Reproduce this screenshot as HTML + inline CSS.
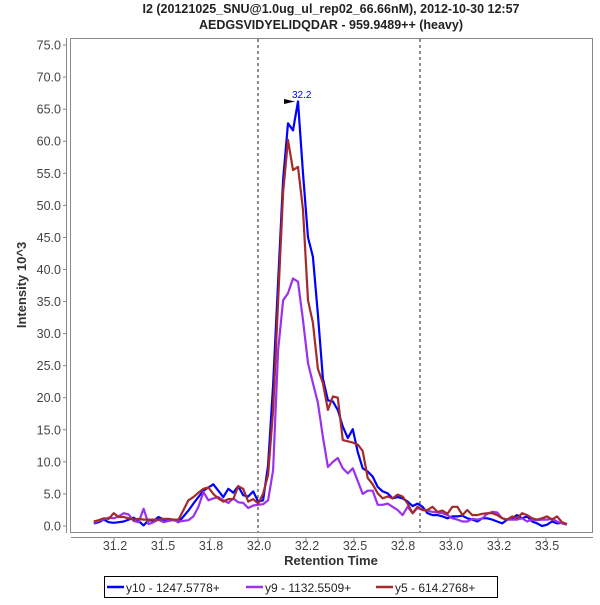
<!DOCTYPE html>
<html><head><meta charset="utf-8"><style>
body{margin:0;background:#fff;font-family:"Liberation Sans",sans-serif}
</style></head><body>
<svg id="chart" width="600" height="600" xmlns="http://www.w3.org/2000/svg" font-family="Liberation Sans, sans-serif">
<rect width="600" height="600" fill="#fff"/>
<text x="331" y="13" text-anchor="middle" font-size="12.5" font-weight="bold" fill="#222">I2 (20121025_SNU@1.0ug_ul_rep02_66.66nM), 2012-10-30 12:57</text>
<text x="331" y="29" text-anchor="middle" font-size="12.5" font-weight="bold" fill="#222">AEDGSVIDYELIDQDAR - 959.9489++ (heavy)</text>
<rect x="70.5" y="38.5" width="522" height="494" fill="#fff" stroke="#888"/>
<g id="yaxis"></g>
<g id="xaxis"></g>
<line x1="258" y1="39" x2="258" y2="532" stroke="#222" stroke-dasharray="3,3"/>
<line x1="420" y1="39" x2="420" y2="532" stroke="#222" stroke-dasharray="3,3"/>
<g id="series"></g>
<polygon points="284,99 295,101.5 284,104" fill="#000"/>
<text x="292" y="98" font-size="10" fill="#00f">32.2</text>
<text x="331" y="565" text-anchor="middle" font-size="13" font-weight="bold" fill="#333">Retention Time</text>
<text transform="translate(26,285) rotate(-90)" text-anchor="middle" font-size="13" font-weight="bold" fill="#333">Intensity 10^3</text>
<g>
<rect x="104.5" y="576.5" width="393" height="21" fill="#fff" stroke="#000"/>
<g><line x1="107" y1="587" x2="124" y2="587" stroke="#00f" stroke-width="2.5"/><text x="126" y="592" font-size="12" fill="#222">y10 - 1247.5778+</text></g>
<g><line x1="246" y1="587" x2="263" y2="587" stroke="#9b30ee" stroke-width="2.5"/><text x="265" y="592" font-size="12" fill="#222">y9 - 1132.5509+</text></g>
<g><line x1="376" y1="587" x2="393" y2="587" stroke="#a52a2a" stroke-width="2.5"/><text x="395" y="592" font-size="12" fill="#222">y5 - 614.2768+</text></g>
</g>
</svg>
<script>
const tStart = 31.1448;
const tStep = 0.02594;
const yTicks = [0,5,10,15,20,25,30,35,40,45,50,55,60,65,70,75];
const xTicks = [31.25,31.5,31.75,32.0,32.25,32.5,32.75,33.0,33.25,33.5];
const xTickLabels = ["31.2","31.5","31.8","32.0","32.2","32.5","32.8","33.0","33.2","33.5"];
const y10 = [0.4,0.6,1.0,0.6,0.5,0.6,0.7,1.0,1.3,0.8,0.1,0.9,0.8,1.4,1.0,0.9,1.0,0.6,
1.5,2.4,3.5,4.5,5.5,6.0,6.5,5.5,4.5,5.8,5.2,6.2,4.8,4.6,5.4,
3.8,4.0,9.5,22,38,54,62.8,61.7,66.2,55,45,42,33,23,19.6,19.4,18.1,15.5,13.7,15.1,11.5,9.0,8.5,7.7,6.1,
5.4,5.1,4.3,4.5,4.3,3.8,3.1,3.5,3.0,2.0,1.7,1.7,1.5,1.2,1.5,1.5,1.6,1.2,1.0,0.7,1.2,1.2,1.0,0.7,0.4,1.0,1.2,1.7,1.2,1.5,0.7,0.4,0.0,0.2,0.7,0.4,0.5,0.3];
const y9 = [0.5,0.8,1.0,1.3,1.2,1.5,2.0,1.8,0.8,0.6,2.7,0.3,0.6,1.0,0.6,0.8,0.9,0.7,
0.8,0.9,1.5,3.0,5.3,4.0,4.3,4.5,4.0,3.6,4.3,3.7,3.6,2.8,3.2,
3.3,3.4,4.0,8.7,27.4,35.2,36.3,38.6,38.1,32.1,25.4,22.3,19.2,13.9,9.2,10.0,10.6,9.0,8.2,9.0,7.0,5.0,5.5,5.5,3.3,
3.3,3.5,3.0,2.5,1.7,3.0,2.0,2.8,2.5,2.4,2.2,2.1,2.0,1.7,1.2,1.0,0.7,0.7,1.1,1.0,1.2,1.9,2.2,2.1,1.2,1.0,1.0,1.0,1.2,0.7,1.0,0.9,1.0,1.0,1.1,0.7,0.4,0.2];
const y5 = [0.7,0.9,1.2,1.1,2.0,1.4,1.4,1.2,1.0,1.1,1.0,1.0,1.0,1.0,1.1,1.1,1.0,1.0,
2.5,4.0,4.5,5.2,5.8,6.0,5.0,4.3,3.8,4.2,4.2,6.2,5.8,3.8,4.2,
3.5,5.0,8.0,18,35,52,60.2,55.5,56,49.3,35.2,31.7,24.5,22.3,18.1,20.2,20.0,13.4,13.2,13.0,12.7,11.7,7.5,6.5,5.1,
4.3,4.6,4.3,4.9,4.6,3.5,2.0,3.0,2.5,2.5,3.0,2.2,2.4,1.9,3.0,3.0,1.7,2.5,1.7,1.7,1.9,2.0,2.0,1.7,1.2,1.0,1.5,1.2,2.0,1.7,1.2,1.0,1.2,1.5,1.0,1.5,0.6,0.3];

const NS='http://www.w3.org/2000/svg';
function xScale(t){return 258+(t-32)*192;}
function yScale(v){return 526-v*6.413;}
function mk(tag,attrs,parent){const e=document.createElementNS(NS,tag);for(const k in attrs)e.setAttribute(k,attrs[k]);parent.appendChild(e);return e;}

const ya=document.getElementById('yaxis');
mk('line',{x1:66.5,y1:38,x2:66.5,y2:533,stroke:'#888'},ya);
yTicks.forEach(v=>{
  const y=yScale(v);
  const tk=mk('line',{x1:63,y1:y,x2:66,y2:y,stroke:'#888'},ya);
  
  
  const tx=mk('text',{x:61,y:y+4.5,'text-anchor':'end','font-size':'12.5',fill:'#444'},ya);
  
  
  tx.textContent=v.toFixed(1);
});
const xa=document.getElementById('xaxis');
mk('line',{x1:71,y1:537.5,x2:593,y2:537.5,stroke:'#888'},xa);
xTicks.forEach((t,i)=>{
  const x=xScale(t);
  const tk=mk('line',{x1:x,y1:538,x2:x,y2:541,stroke:'#888'},xa);
  
  
  const tx=mk('text',{x:x+1,y:550,'text-anchor':'middle','font-size':'12.5',fill:'#444'},xa);
  
  
  tx.textContent=xTickLabels[i];
});
const sg=document.getElementById('series');
[[y10,'#0000ff','y10'],[y9,'#9b30ee','y9'],[y5,'#a52a2a','y5']].forEach(s=>{
  const pts=s[0].map((v,i)=>xScale(tStart+i*tStep).toFixed(1)+','+yScale(v).toFixed(1)).join(' ');
  const pl=mk('polyline',{points:pts,fill:'none',stroke:s[1],'stroke-width':2.2,'stroke-linejoin':'round'},sg);
  
  
});
</script>
</body></html>
